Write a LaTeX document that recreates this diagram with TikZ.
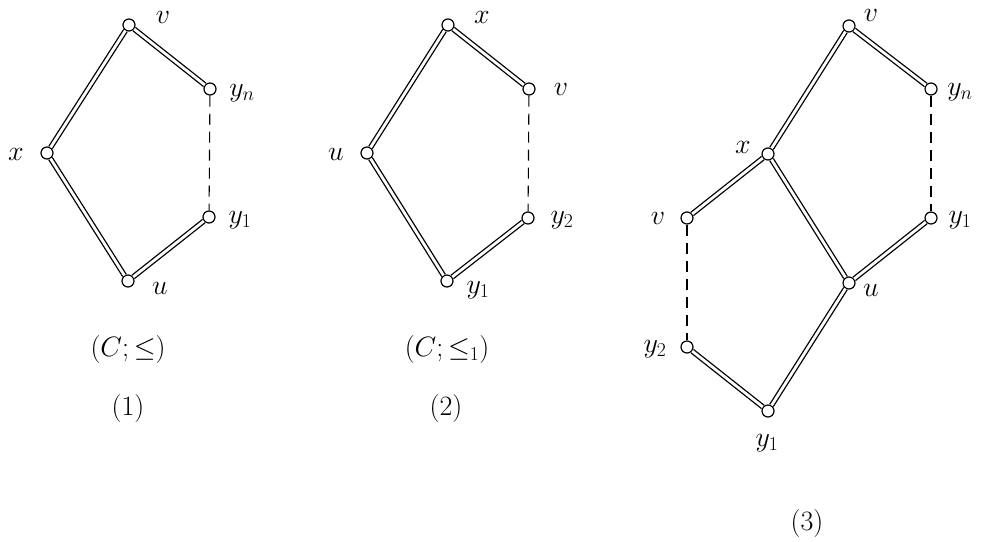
\RequirePackage{fix-cm}
\documentclass[tikz,border=0pt]{standalone}
\usepackage{amssymb}
\begin{document}
\begin{tikzpicture}[x=1pt,y=-1pt,
  pt/.style={circle,draw,line width=1.2pt,minimum size=12pt,inner sep=0pt,fill=white},
  dbl/.style={draw,line width=1.3pt,double,double distance=2.8pt},
  dsh/.style={draw,line width=1.1pt,dash pattern=on 11pt off 7pt},
  lab/.style={inner sep=0pt,font=\fontsize{28}{32}\selectfont}]
\useasboundingbox[fill=white] (0,0) rectangle (984,541);
% diagram 1
\node[pt] (a1) at (129,25) {};
\node[pt] (a2) at (210,89) {};
\node[pt] (a3) at (47,153) {};
\node[pt] (a4) at (209,217) {};
\node[pt] (a5) at (128,281) {};
\draw[dbl] (a1) -- (a2);
\draw[dbl] (a1) -- (a3);
\draw[dbl] (a3) -- (a5);
\draw[dbl] (a5) -- (a4);
\draw[dsh] (a2) -- (a4);
\node[lab] (la1) at (163,17) {$v$};
\node[lab] (la2) at (242,93) {$y_n$};
\node[lab] (la3) at (16,154) {$x$};
\node[lab] (la4) at (240,220) {$y_1$};
\node[lab] (la5) at (160,288) {$u$};
\node[lab] (ca1) at (128,349) {$(C;\leq)$};
\node[lab] (cb1) at (128,409) {(1)};
% diagram 2
\node[pt] (b1) at (448,25) {};
\node[pt] (b2) at (529,89) {};
\node[pt] (b3) at (367,153) {};
\node[pt] (b4) at (528,218) {};
\node[pt] (b5) at (447,281) {};
\draw[dbl] (b1) -- (b2);
\draw[dbl] (b1) -- (b3);
\draw[dbl] (b3) -- (b5);
\draw[dbl] (b5) -- (b4);
\draw[dsh] (b2) -- (b4);
\node[lab] (lb1) at (482,17) {$x$};
\node[lab] (lb2) at (561,89) {$v$};
\node[lab] (lb3) at (336,154) {$u$};
\node[lab] (lb4) at (562,220) {$y_2$};
\node[lab] (lb5) at (478,290) {$y_1$};
\node[lab] (ca2) at (447,349) {$(C;\leq_1)$};
\node[lab] (cb2) at (446,409) {(2)};
% diagram 3
\node[pt] (c1) at (849,26) {};
\node[pt] (c2) at (931,89) {};
\node[pt] (c3) at (768,154) {};
\node[pt] (c4) at (687,218) {};
\node[pt] (c5) at (931,218) {};
\node[pt] (c6) at (849,283) {};
\node[pt] (c7) at (687,347) {};
\node[pt] (c8) at (768,411) {};
\draw[dbl] (c1) -- (c2);
\draw[dbl] (c1) -- (c3);
\draw[dbl] (c3) -- (c4);
\draw[dbl] (c3) -- (c6);
\draw[dbl] (c6) -- (c5);
\draw[dbl] (c6) -- (c8);
\draw[dbl] (c7) -- (c8);
\draw[dsh] (c2) -- (c5);
\draw[dsh] (c4) -- (c7);
\node[lab] (lc1) at (871,15) {$v$};
\node[lab] (lc2) at (960,92) {$y_n$};
\node[lab] (lc3) at (743,147) {$x$};
\node[lab] (lc4) at (658,218) {$v$};
\node[lab] (lc5) at (960,220) {$y_1$};
\node[lab] (lc6) at (871,290) {$u$};
\node[lab] (lc7) at (655,349) {$y_2$};
\node[lab] (lc8) at (767,443) {$y_1$};
\node[lab] (cb3) at (807,524) {(3)};
\end{tikzpicture}
\end{document}
